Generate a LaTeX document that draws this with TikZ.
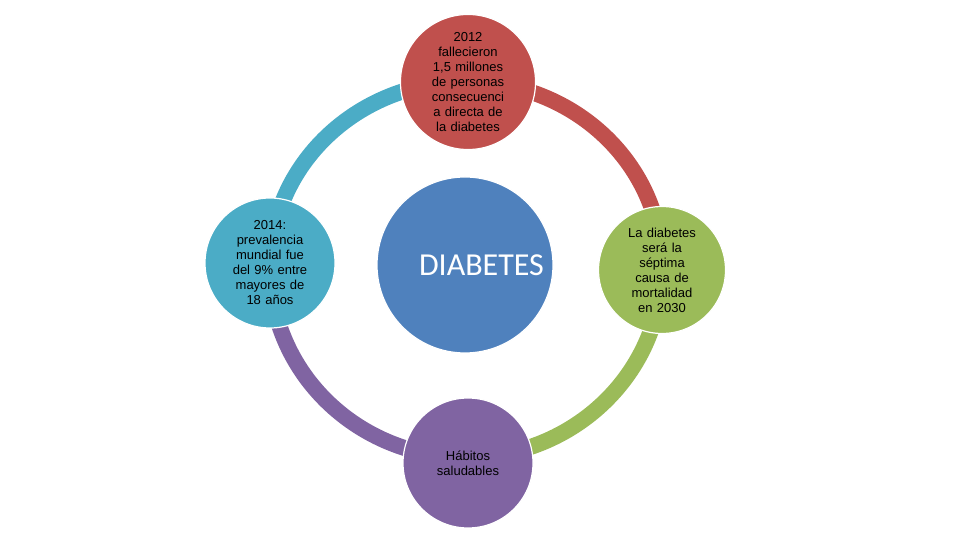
\documentclass[tikz,border=0pt]{standalone}
\usepackage{fontspec}
\setmainfont{Liberation Sans}
\newfontfamily\titlefont{Carlito}
\definecolor{cred}{HTML}{C0504D}
\definecolor{cgreen}{HTML}{9BBB59}
\definecolor{cpurple}{HTML}{8064A2}
\definecolor{cteal}{HTML}{4BACC6}
\definecolor{cblue}{HTML}{4F81BD}
\tikzset{
  bubble/.style={circle, draw=white, line width=1.2pt, minimum size=130pt, inner sep=0pt,
    align=center, font=\fontsize{13}{15}\selectfont, text width=92pt},
  ring/.style={line width=16pt},
}
\begin{document}
\begin{tikzpicture}[x=1pt,y=1pt]
	\useasboundingbox[fill=white] (0,0) rectangle (960,540);
	\coordinate (mid) at (466,272.5);
	\node[bubble, fill=cblue, minimum size=176pt, font=\titlefont\fontsize{32}{36}\selectfont, text=white] (ctr) at (465,275) {DIABETES};
	% outer ring, one arc per quarter
	\coordinate (t) at (466,458.5);
	\coordinate (r) at (662,272.5);
	\coordinate (b) at (466,82.5);
	\coordinate (l) at (270,272.5);
	\draw[ring, cred] (t) arc[start angle=90, end angle=0, x radius=196, y radius=186];
	\draw[ring, cgreen] (r) arc[start angle=0, end angle=-90, x radius=196, y radius=190];
	\draw[ring, cpurple] (b) arc[start angle=270, end angle=180, x radius=196, y radius=190];
	\draw[ring, cteal] (l) arc[start angle=180, end angle=90, x radius=196, y radius=186];
	\node[bubble, fill=cred] (top) at (468,458) {2012\\fallecieron\\1,5 millones\\de personas\\consecuenci\\a directa de\\la diabetes};
	\node[bubble, fill=cgreen, minimum size=127pt] (right) at (662,270) {La diabetes\\será la\\séptima\\causa de\\mortalidad\\en 2030};
	\node[bubble, fill=cpurple] (bottom) at (468,77) {Hábitos\\saludables};
	\node[bubble, fill=cteal] (left) at (270,277) {2014:\\prevalencia\\mundial fue\\del 9\% entre\\mayores de\\18 años};
\end{tikzpicture}
\end{document}
